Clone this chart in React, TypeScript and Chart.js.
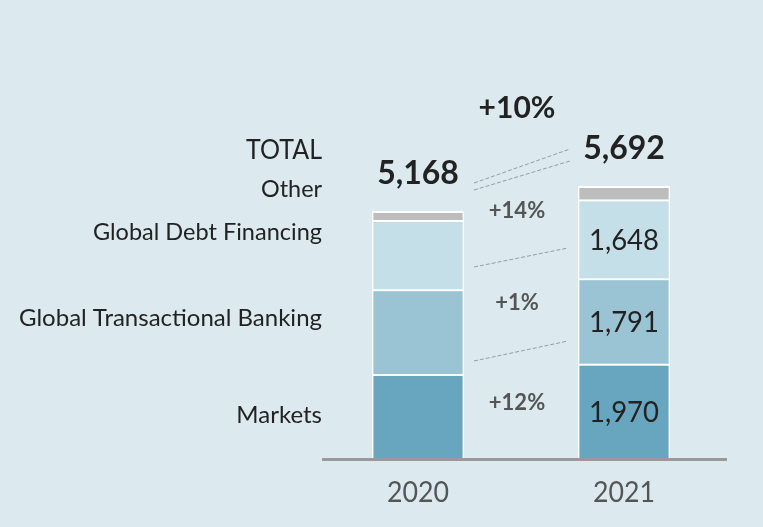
import React, { useEffect, useRef } from "react";
import { Chart, registerables } from "chart.js";

Chart.register(...registerables);

const categories = ["2020", "2021"];
const seriesNames = ["Markets", "Global Transactional Banking", "Global Debt Financing", "Other"];
const markets = [1759, 1970];
const transactionalBanking = [1773, 1791];
const debtFinancing = [1446, 1648];
const other = [190, 283];
const totals = [5168, 5692];
const seriesColors = ["#68a6c0", "#9ac3d4", "#c5dfe8", "#bdbdbd"];
const connectorValues = [
  [5754, 6466],
  [5608, 6215],
  [3997, 4394],
  [2030, 2448],
];

const BG = "#dceaf0";
const FONT = "Lato, 'Open Sans', sans-serif";

const fmt = (v: number) => v.toLocaleString("en-US");
const pct = (a: number, b: number) => "+" + Math.round((b / a - 1) * 100) + "%";

const overlay = {
  id: "overlay",
  afterDatasetsDraw(chart: any) {
    const ctx = chart.ctx;
    const ca = chart.chartArea;
    const yS = chart.scales.y;
    const bottom = ca.bottom;
    ctx.save();

    // axis line
    ctx.strokeStyle = "#999999";
    ctx.lineWidth = 3;
    ctx.beginPath();
    ctx.moveTo(ca.left + 7, bottom + 1.5);
    ctx.lineTo(ca.right, bottom + 1.5);
    ctx.stroke();

    const metas = [0, 1, 2, 3].map((i) => chart.getDatasetMeta(i));
    const b0 = metas[0].data[0];
    const b1 = metas[0].data[1];
    const x0 = b0.x;
    const x1 = b1.x;
    const half = b0.width / 2;
    const midX = (x0 + x1) / 2 - 4;

    // connectors
    ctx.strokeStyle = "#9a9a9a";
    ctx.lineWidth = 1;
    ctx.setLineDash([4, 2]);
    connectorValues.forEach(([a, b], i) => {
      ctx.beginPath();
      ctx.moveTo(x0 + half + 10, yS.getPixelForValue(a));
      ctx.lineTo(x1 - half - (i < 2 ? 8 : 10), yS.getPixelForValue(b));
      ctx.stroke();
    });
    ctx.setLineDash([]);

    ctx.textBaseline = "middle";

    // left labels
    ctx.fillStyle = "#222222";
    ctx.textAlign = "right";
    const lx = ca.left + 7;
    const leftLabels: [string, number, number, number][] = [
      ["TOTAL", 308, 27, 76],
      [seriesNames[3], 269, 24, 61],
      [seriesNames[2], 226, 24, 229],
      [seriesNames[1], 140, 24, 303],
      [seriesNames[0], 43, 24, 87],
    ];
    leftLabels.forEach(([t, dy, size, w]) => {
      ctx.font = `${size}px ${FONT}`;
      ctx.fillText(t, lx, bottom - dy, w);
    });

    // totals
    ctx.textAlign = "center";
    ctx.font = `bold 32px ${FONT}`;
    ctx.fillStyle = "#222222";
    [0, 1].forEach((i) => {
      const top = metas[3].data[i].y;
      ctx.fillText(fmt(totals[i]), metas[3].data[i].x, top - 37, 82);
    });

    // inner values on 2021
    ctx.font = `28px ${FONT}`;
    ctx.fillStyle = "#222222";
    const vals = [markets[1], transactionalBanking[1], debtFinancing[1]];
    [0, 1, 2].forEach((i) => {
      const el = metas[i].data[1];
      ctx.fillText(fmt(vals[i]), el.x, (el.y + el.base) / 2 + 2, 70);
    });

    // growth labels
    ctx.font = `bold 30px ${FONT}`;
    ctx.fillStyle = "#222222";
    ctx.fillText(pct(totals[0], totals[1]), midX, bottom - 350, 80);
    ctx.font = `bold 22px ${FONT}`;
    ctx.fillStyle = "#555555";
    ctx.fillText(pct(debtFinancing[0], debtFinancing[1]), midX, bottom - 247, 60);
    ctx.fillText(pct(transactionalBanking[0], transactionalBanking[1]), midX, bottom - 155, 48);
    ctx.fillText(pct(markets[0], markets[1]), midX, bottom - 55, 60);

    // years
    ctx.font = `29px ${FONT}`;
    ctx.fillStyle = "#555555";
    categories.forEach((c, i) => {
      ctx.fillText(c, metas[0].data[i].x, bottom + 35, 62);
    });

    ctx.restore();
  },
};

export default function App() {
  const ref = useRef<HTMLCanvasElement>(null);
  useEffect(() => {
    if (!ref.current) return;
    const border = { top: 2, left: 1.5, right: 1.5, bottom: 0 };
    const data = [markets, transactionalBanking, debtFinancing, other];
    const chart = new Chart(ref.current, {
      type: "bar",
      data: {
        labels: categories,
        datasets: data.map((d, i) => ({
          label: seriesNames[i],
          data: d,
          backgroundColor: seriesColors[i],
          borderColor: "#ffffff",
          borderWidth: border,
          borderSkipped: false,
          categoryPercentage: 1,
          barPercentage: 0.447,
        })),
      },
      options: {
        responsive: false,
        animation: false,
        layout: { padding: { left: 315, right: 36, top: 30, bottom: 69 } },
        plugins: { legend: { display: false }, tooltip: { enabled: false } },
        scales: {
          x: { stacked: true, display: false },
          y: { stacked: true, display: false, min: 0, max: 8956 },
        },
      },
      plugins: [overlay],
    });
    return () => chart.destroy();
  }, []);
  return (
    <div style={{ position: "absolute", left: 0, top: 0, width: 763, height: 527, background: BG }}>
      <canvas ref={ref} width={763} height={527} style={{ display: "block" }} />
    </div>
  );
}
